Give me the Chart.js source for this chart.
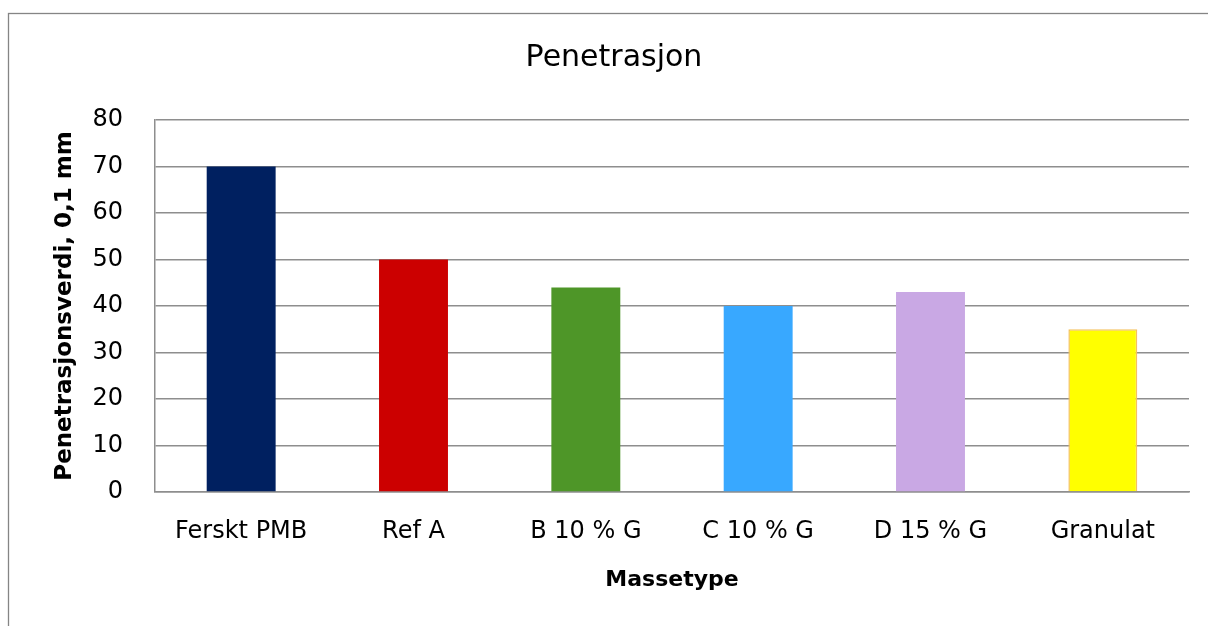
<!DOCTYPE html>
<html>
<head>
<meta charset="utf-8">
<script src="https://cdn.jsdelivr.net/npm/chart.js@4/dist/chart.umd.min.js"></script>
<style>
  html, body { margin: 0; padding: 0; background: #fff; }
  #wrap { width: 1208px; height: 626px; }
</style>
</head>
<body>
<div id="wrap"><canvas id="chart" width="1208" height="626"></canvas></div>
<script>
// data
var categories = ['Ferskt PMB', 'Ref A', 'B 10 % G', 'C 10 % G', 'D 15 % G', 'Granulat'];
var values = [70, 50, 44, 40, 43, 35];
var barColors = ['#002060', '#CC0000', '#4E9628', '#38A8FF', '#C9A8E4', '#FFFF00'];
var barBorders = ['#002060', '#CC0000', '#4E9628', '#38A8FF', '#C9A8E4', '#F5C15E'];
var yTicks = [0, 10, 20, 30, 40, 50, 60, 70, 80];
var chartTitle = 'Penetrasjon';

var FONT = "'DejaVu Sans', Verdana, sans-serif";
var GRID = '#8e8e8e';

// outer frame of the chart object (runs off the right and bottom edge) + title
var framePlugin = {
    id: 'frame',
    beforeDraw: function (chart) {
        var ctx = chart.ctx;
        ctx.save();
        ctx.fillStyle = '#ffffff';
        ctx.fillRect(0, 0, chart.width, chart.height);
        ctx.strokeStyle = '#858585';
        ctx.lineWidth = 1.3;
        ctx.strokeRect(8.5, 13.5, chart.width + 20, chart.height + 20);
        // title is centred on the whole frame, not on the plot
        ctx.fillStyle = '#000';
        ctx.font = '30px ' + FONT;
        ctx.textAlign = 'center';
        ctx.textBaseline = 'middle';
        ctx.fillText(chartTitle, 614, 58);
        ctx.restore();
    }
};

new Chart(document.getElementById('chart').getContext('2d'), {
    type: 'bar',
    data: {
        labels: categories,
        datasets: [{
            data: values,
            backgroundColor: barColors,
            borderColor: barBorders,
            borderWidth: [0, 0, 0, 0, 0, 1.5],
            barPercentage: 0.4,
            categoryPercentage: 1.0
        }]
    },
    options: {
        responsive: false,
        animation: false,
        layout: { padding: { left: 10, right: 19, top: 120, bottom: 0 } },
        plugins: {
            legend: { display: false },
            tooltip: { enabled: false },
            title: { display: false }
        },
        scales: {
            x: {
                grid: { display: false, drawTicks: false },
                border: { display: true, color: GRID, width: 1.5 },
                ticks: {
                    color: '#000',
                    padding: 25,
                    maxRotation: 0,
                    font: { family: FONT, size: 24 }
                },
                title: {
                    display: true,
                    text: 'Massetype',
                    color: '#000',
                    font: { family: FONT, size: 22, weight: 'bold' },
                    padding: { top: 10, bottom: 33 }
                },
                afterFit: function (scale) { scale.height = 134; }
            },
            y: {
                min: 0,
                max: 80,
                afterBuildTicks: function (scale) {
                    scale.ticks = yTicks.map(function (v) { return { value: v }; });
                },
                grid: { color: GRID, lineWidth: 1.5, drawTicks: false },
                border: { display: true, color: GRID, width: 1.5 },
                ticks: {
                    color: '#000',
                    padding: 32,
                    font: { family: FONT, size: 24 }
                },
                title: {
                    display: true,
                    text: 'Penetrasjonsverdi, 0,1 mm',
                    color: '#000',
                    font: { family: FONT, size: 23, weight: 'bold' },
                    padding: { top: 41, bottom: 10 }
                },
                afterFit: function (scale) { scale.width = 145; }
            }
        }
    },
    plugins: [framePlugin]
});
</script>
</body>
</html>
